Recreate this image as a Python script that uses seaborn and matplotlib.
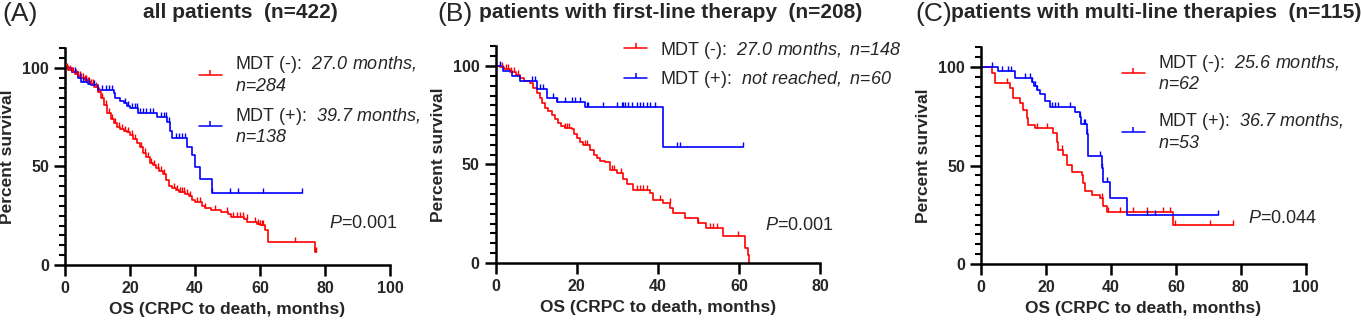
import numpy as np
import pandas as pd
import matplotlib
matplotlib.use("Agg")
import matplotlib.pyplot as plt
import seaborn as sns
from matplotlib.path import Path
from matplotlib.lines import Line2D

# ---------------- data ----------------
# Panel A: all patients
a_neg_t = [0, 1, 2, 3, 4, 5, 6, 7, 8, 9, 10, 11, 12, 13, 14, 15, 16, 17, 18, 19, 20, 21, 22, 23, 24, 25,
           26, 27, 28, 29, 30, 31, 32, 33, 34, 35, 37, 38, 39, 40, 42, 43, 45, 48, 50, 51, 55, 56, 59, 60,
           61.5, 62.6, 76.8, 77.2]
a_neg_s = [100, 99, 98, 97, 96, 95, 94, 93, 92, 90.5, 88, 85, 81, 77, 74, 72, 70, 69, 68, 67.5, 66, 64, 62,
           60, 57, 55, 52, 51, 49, 47.5, 46, 43, 40, 39, 38, 37.2, 36, 35, 33, 32, 30, 29, 28, 27, 26, 24.5,
           23.5, 22, 21, 20.3, 17.8, 11.5, 6.8, 6.8]
a_neg_c = [0.5, 1, 1.5, 2, 2.5, 3, 3.5, 4, 4.5, 5, 5.5, 6, 6.5, 7, 7.5, 8, 8.5, 9.5, 10.5, 11.5, 12.5, 13.5,
           14.5, 15.5, 16.5, 17.5, 18.5, 19.5, 20.5, 21.5, 23.5, 24.5, 25.5, 26.5, 27.5, 28.5, 29.5, 30.5,
           33.5, 34.5, 35.5, 36, 36.5, 37.5, 38.5, 40.5, 41.5, 43.1, 46.2, 49.7, 51.8, 52.8, 53.8, 54.9,
           55.9, 58.5, 59.5, 60, 60.5, 61, 70.8, 77, 77.2]
a_pos_t = [0, 2, 4, 5, 7, 8, 10.3, 15, 15.5, 17, 18, 19, 20, 22.6, 28.2, 31.3, 32.3, 32.8, 37.4, 39, 40,
           41.5, 45.1, 73]
a_pos_s = [100, 98, 95, 93, 92, 91.4, 88.8, 87.2, 84.6, 83, 82, 80.5, 79.5, 77, 75.3, 72.7, 68, 64.3, 60,
           55.8, 49.9, 43.5, 36.4, 36.4]
a_pos_c = [3, 4.5, 5.5, 6.5, 7.5, 9, 11.5, 12.5, 13.5, 14.5, 18.5, 19.5, 20.5, 21.5, 22, 23, 24, 25, 26,
           27, 29.5, 30.5, 31, 32, 34, 35, 36, 37, 45.1, 50.8, 53.3, 61, 72.8]

# Panel B: first-line therapy
b_neg_t = [0, 1, 2, 3.5, 5, 6, 7, 8.5, 9.3, 10.2, 10.9, 11.5, 12.2, 13, 13.8, 14.6, 15.4, 16.2, 17.1, 18.7,
           19.3, 20, 20.8, 21.6, 23.3, 24.2, 24.9, 25.8, 27, 28.2, 30, 31.5, 32.5, 33.9, 38.1, 38.9, 41.3,
           43, 43.8, 46.7, 50, 52, 56.1, 61.5, 62.3, 62.6]
b_neg_s = [100, 99.5, 98.5, 97.1, 95.5, 93.7, 92.5, 91.2, 88.6, 86.5, 84, 81, 78.7, 77, 75.3, 73, 71, 69.5,
           68.5, 68, 65.5, 63.3, 61.5, 60, 57.4, 55, 53.1, 52, 51.4, 47.4, 45.7, 42.5, 40, 37.2, 35.5, 32.1,
           30.5, 27.9, 25.4, 22.8, 20.3, 17.8, 13.5, 7.6, 4, 0]
b_neg_c = [1, 1.5, 2.5, 3, 3.8, 4.5, 5.5, 17.1, 17.6, 18.2, 22, 22.5, 28.8, 29.3, 31, 34.8, 35.6, 36.4,
           37.2, 40.5, 42.9, 50, 52.9, 53.7, 54.5, 59.8]
b_pos_t = [0, 1.9, 3.9, 6.0, 10.1, 12.6, 15.0, 22.0, 41.3, 61]
b_pos_s = [100, 97.5, 95, 92.4, 88.2, 84, 81.5, 79, 59, 59]
b_pos_c = [1.06, 8.9, 9.7, 10.9, 11.7, 14.2, 15, 17.1, 18.7, 19.6, 20.8, 22.4, 22.8, 26.5, 29.8, 31.1,
           31.5, 31.9, 32.7, 33.5, 34.8, 35.6, 36.4, 37.2, 38, 39.3, 44.6, 45.5, 61]

# Panel C: multi-line therapies
c_neg_t = [0, 3.3, 4.3, 8.9, 10.0, 12.0, 13.0, 14.1, 14.6, 16.6, 22.3, 23.3, 23.8, 25.4, 26.4, 27.9, 31.0,
           31.5, 32.0, 34.1, 36.7, 37.7, 38.7, 59.2, 77.7]
c_neg_s = [100, 96.8, 91.7, 89.2, 84.1, 81.6, 78.2, 74.0, 70.6, 68.9, 66.3, 62.1, 57.9, 55.3, 50.3, 46.9,
           45.2, 41.0, 37.0, 35.2, 33.3, 29.5, 26.6, 19.8, 19.8]
c_neg_c = [7.9, 17.1, 20.2, 24.8, 37.2, 39.2, 42.8, 46.9, 51, 56.1, 58.2, 59.7, 70.5, 77.7]
c_pos_t = [0, 5.3, 10.5, 15.6, 16.2, 17.2, 18.2, 19.7, 21.3, 29.0, 30.5, 30.8, 32.5, 33.1, 37.2, 37.7, 39.7,
           44.9, 73.1]
c_pos_s = [100, 98.1, 94.2, 92.3, 90.4, 88.5, 86.5, 82.7, 79.5, 77.0, 74.5, 71.1, 66.0, 54.9, 48.6, 41.8,
           33.3, 24.9, 24.9]
c_pos_c = [3.3, 6.4, 8.4, 9.2, 13.6, 15.1, 15.8, 16.6, 17.4, 21.8, 22.8, 23.8, 27.4, 30.5, 31.6, 32.0,
           32.5, 36.7, 37.4, 38.7, 51, 53.6, 73.1]

titles = ["all patients  (n=422)", "patients with first-line therapy  (n=208)",
          "patients with multi-line therapies  (n=115)"]
panel_tags = ["(A)", "(B)", "(C)"]
neg_labels = [r"MDT (-):  $\mathit{27.0\ months,}$" + "\n" + r"$\mathit{n}$=$\mathit{284}$",
              r"MDT (-):  $\mathit{27.0\ months,\ n}$=$\mathit{148}$",
              r"MDT (-):  $\mathit{25.6\ months,}$" + "\n" + r"$\mathit{n}$=$\mathit{62}$"]
pos_labels = [r"MDT (+):  $\mathit{39.7\ months,}$" + "\n" + r"$\mathit{n}$=$\mathit{138}$",
              r"MDT (+):  $\mathit{not\ reached,\ n}$=$\mathit{60}$",
              r"MDT (+):  $\mathit{36.7\ months,}$" + "\n" + r"$\mathit{n}$=$\mathit{53}$"]
p_values = ["0.001", "0.001", "0.044"]
x_max = [100, 80, 100]

# ---------------- style ----------------
sns.set_style("ticks")
plt.rcParams['font.family'] = ['Liberation Sans', 'DejaVu Sans']
plt.rcParams['mathtext.fontset'] = 'custom'
# math is used only for italic fragments, so make every math glyph (digits too) italic
plt.rcParams['mathtext.rm'] = 'Liberation Sans:italic'
plt.rcParams['mathtext.it'] = 'Liberation Sans:italic'
plt.rcParams['mathtext.bf'] = 'Liberation Sans:bold:italic'

RED = '#ff0000'
BLUE = '#0000ff'
tick_up = Path([(0, 0), (0, 1)], [Path.MOVETO, Path.LINETO])

fig = plt.figure(figsize=(13.61, 3.25), dpi=100)
axes_rects = [[0.04776, 0.18462, 0.23880, 0.66677],
              [0.36422, 0.19077, 0.23828, 0.66677],
              [0.72079, 0.18769, 0.23858, 0.66677]]

panels = [
    [(a_neg_t, a_neg_s, a_neg_c, RED), (a_pos_t, a_pos_s, a_pos_c, BLUE)],
    [(b_neg_t, b_neg_s, b_neg_c, RED), (b_pos_t, b_pos_s, b_pos_c, BLUE)],
    [(c_neg_t, c_neg_s, c_neg_c, RED), (c_pos_t, c_pos_s, c_pos_c, BLUE)],
]

legend_cfg = [dict(x=0.412, y=0.972, spacing=0.6),
              dict(x=0.396, y=1.03, spacing=0.45),
              dict(x=0.433, y=0.975, spacing=1.0)]
p_pos = [(0.812, 0.19), (0.830, 0.175), (0.822, 0.21)]
title_x = [0.1763, 0.493, 0.8494]
tag_x = [0.0015, 0.3211, 0.6723]


def surv_at(t, s, x):
    idx = np.searchsorted(np.asarray(t), np.asarray(x), side='right') - 1
    return np.asarray(s)[idx]


for i, rect in enumerate(axes_rects):
    ax = fig.add_axes(rect)
    for (t, s, c, col) in panels[i]:
        df = pd.DataFrame({'t': t, 's': s})
        sns.lineplot(data=df, x='t', y='s', drawstyle='steps-post', color=col, lw=1.2,
                     estimator=None, sort=False, ax=ax)
        cdf = pd.DataFrame({'t': c, 's': surv_at(t, s, c)})
        sns.scatterplot(data=cdf, x='t', y='s', marker=tick_up, s=42, color=col, edgecolor=col,
                        linewidth=1.0, ax=ax, zorder=3)
    ax.set_xlim(0, x_max[i])
    ax.set_ylim(0, 110)
    ax.set_xticks(np.arange(0, x_max[i] + 1, 20))
    ax.set_yticks([0, 50, 100])
    ax.set_yticks(np.arange(0, 111, 5), minor=True)
    ax.tick_params(axis='both', which='major', direction='out', length=8, width=1.8,
                   labelsize=11.5, color='black')
    ax.tick_params(axis='y', which='minor', direction='out', length=4, width=1.5, color='black')
    for lab in ax.get_xticklabels() + ax.get_yticklabels():
        lab.set_fontweight('bold')
    sns.despine(ax=ax)
    for sp in ['left', 'bottom']:
        ax.spines[sp].set_linewidth(1.8)
        ax.spines[sp].set_color('black')
    ax.set_xlabel("OS (CRPC to death, months)", fontsize=12.5, fontweight='bold', labelpad=4)
    ax.set_ylabel("Percent survival", fontsize=12.5, fontweight='bold', labelpad=5)

    handles = [Line2D([0], [0], color=RED, lw=1.1, marker=tick_up, markersize=6.5, markeredgewidth=1.1),
               Line2D([0], [0], color=BLUE, lw=1.1, marker=tick_up, markersize=6.5, markeredgewidth=1.1)]
    cfg = legend_cfg[i]
    ax.legend(handles, [neg_labels[i], pos_labels[i]], loc='upper left',
              bbox_to_anchor=(cfg['x'], cfg['y']), frameon=False, fontsize=13,
              borderaxespad=0, borderpad=0, handlelength=1.28, handletextpad=0.72,
              labelspacing=cfg['spacing'], numpoints=1)
    ax.text(p_pos[i][0], p_pos[i][1], r"$\mathit{P}$=" + p_values[i], transform=ax.transAxes,
            fontsize=13, ha='left', va='center')

    fig.text(title_x[i], 0.96, titles[i], fontsize=15, fontweight='bold', ha='center', va='center')
    fig.text(tag_x[i], 0.957, panel_tags[i], fontsize=19, ha='left', va='center')

fig.savefig("out.png", dpi=100)
